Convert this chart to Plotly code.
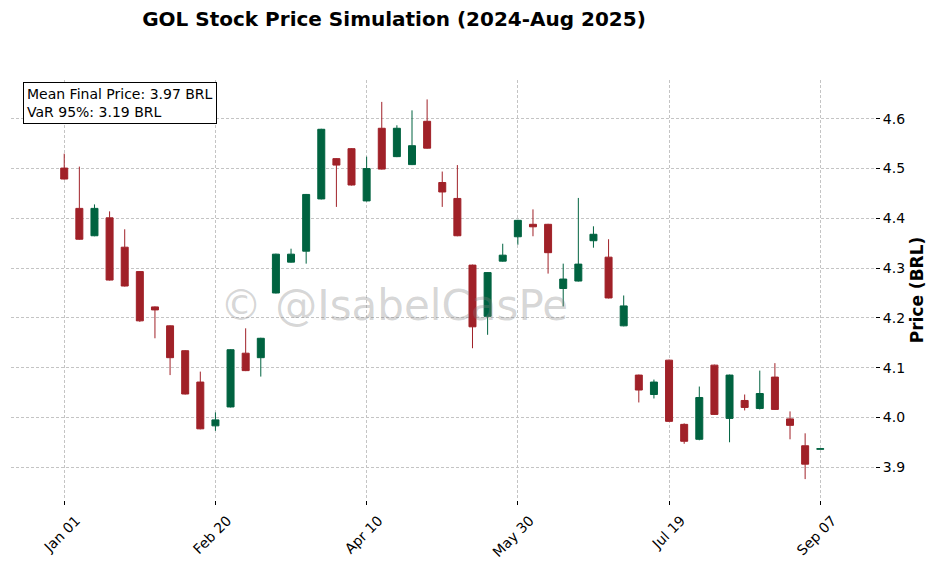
import pandas as pd
import plotly.graph_objects as go

# ---- data ----
dates = pd.date_range("2024-01-01", periods=51, freq="5D")
opens = [4.501, 4.420, 4.365, 4.401, 4.342, 4.293, 4.222, 4.184, 4.134, 4.071,
         3.983, 4.021, 4.129, 4.120, 4.250, 4.312, 4.334, 4.439, 4.520, 4.540,
         4.435, 4.581, 4.524, 4.508, 4.595, 4.472, 4.440, 4.306, 4.203, 4.314,
         4.363, 4.388, 4.388, 4.259, 4.274, 4.355, 4.322, 4.184, 4.085, 4.046,
         4.115, 3.986, 3.956, 4.105, 3.998, 4.034, 4.018, 4.081, 3.997, 3.943,
         3.936]
highs = [4.530, 4.504, 4.428, 4.414, 4.378, 4.294, 4.223, 4.185, 4.135, 4.092,
         4.010, 4.137, 4.179, 4.160, 4.329, 4.339, 4.449, 4.580, 4.521, 4.541,
         4.524, 4.634, 4.587, 4.617, 4.639, 4.494, 4.507, 4.307, 4.292, 4.349,
         4.397, 4.418, 4.389, 4.309, 4.441, 4.384, 4.358, 4.245, 4.086, 4.076,
         4.116, 3.988, 4.062, 4.106, 4.086, 4.046, 4.094, 4.109, 4.012, 3.968,
         3.937]
lows = [4.478, 4.357, 4.364, 4.275, 4.263, 4.192, 4.159, 4.085, 4.046, 3.976,
        3.973, 4.020, 4.093, 4.082, 4.249, 4.311, 4.309, 4.438, 4.423, 4.466,
        4.434, 4.498, 4.523, 4.507, 4.540, 4.423, 4.364, 4.139, 4.166, 4.313,
        4.347, 4.364, 4.289, 4.223, 4.273, 4.341, 4.239, 4.183, 4.030, 4.038,
        3.991, 3.947, 3.954, 4.005, 3.950, 4.014, 4.016, 4.015, 3.956, 3.876,
        3.936]
closes = [4.479, 4.358, 4.420, 4.276, 4.264, 4.194, 4.216, 4.120, 4.047, 3.977,
          3.995, 4.136, 4.094, 4.159, 4.328, 4.328, 4.448, 4.579, 4.507, 4.467,
          4.500, 4.499, 4.581, 4.546, 4.541, 4.453, 4.365, 4.182, 4.291, 4.326,
          4.396, 4.383, 4.331, 4.278, 4.308, 4.368, 4.240, 4.224, 4.055, 4.071,
          3.992, 3.952, 4.040, 4.006, 4.085, 4.020, 4.048, 4.016, 3.984, 3.906,
          3.937]

tick_dates = ["2024-01-01", "2024-02-20", "2024-04-10", "2024-05-30", "2024-07-19", "2024-09-07"]
tick_labels = ["Jan 01", "Feb 20", "Apr 10", "May 30", "Jul 19", "Sep 07"]
y_ticks = [3.9, 4.0, 4.1, 4.2, 4.3, 4.4, 4.5, 4.6]

title_text = "GOL Stock Price Simulation (2024-Aug 2025)"
stats_text = "Mean Final Price: 3.97 BRL<br>VaR 95%: 3.19 BRL"
watermark = "© @IsabelCasPe"

UP = "#006340"
DOWN = "#A02128"
FONT = "DejaVu Sans"

fig = go.Figure(go.Candlestick(
    x=dates, open=opens, high=highs, low=lows, close=closes,
    increasing=dict(fillcolor=UP, line=dict(color=UP, width=1)),
    decreasing=dict(fillcolor=DOWN, line=dict(color=DOWN, width=1)),
    whiskerwidth=0,
    hoverinfo="skip",
    showlegend=False,
))

start = pd.Timestamp("2024-01-01")
x0 = start - pd.Timedelta(days=17.6)
x1 = start + pd.Timedelta(days=268.1)

# the page body adds an 8px offset, so margins are shifted accordingly
fig.update_layout(
    width=939, height=565,
    margin=dict(l=3, r=72, t=72, b=73, autoexpand=False),
    paper_bgcolor="white", plot_bgcolor="white",
    font=dict(family=FONT, size=14, color="black"),
    boxgap=0.34,
    title=dict(text="<b>" + title_text + "</b>", x=386 / 939, xref="container",
               xanchor="center", y=1 - 11 / 565, yref="container", yanchor="middle",
               automargin=False,
               font=dict(family=FONT, size=20, color="black")),
    xaxis=dict(
        range=[x0, x1], rangeslider=dict(visible=False), automargin=False,
        tickvals=tick_dates, ticktext=tick_labels, tickangle=-45,
        ticklabelshift=12, ticklabelstandoff=2,
        ticks="outside", ticklen=4, tickcolor="black", tickwidth=1,
        showline=False, zeroline=False,
        showgrid=True, gridcolor="#c4c4c4", gridwidth=0.7, griddash="3px,2px",
        tickfont=dict(family=FONT, size=14, color="black"),
    ),
    yaxis=dict(
        side="right", range=[3.834, 4.678], automargin=False,
        tickvals=y_ticks, tickformat=".1f",
        ticks="outside", ticklen=4, tickcolor="black", tickwidth=1,
        showline=False, zeroline=False,
        showgrid=True, gridcolor="#c4c4c4", gridwidth=0.7, griddash="3px,2px",
        tickfont=dict(family=FONT, size=14, color="black"),
        title=dict(text="<b>Price (BRL)</b>", font=dict(family=FONT, size=17, color="black"),
                   standoff=6),
    ),
    annotations=[
        dict(text=watermark, xref="paper", yref="paper", x=(394 - 11) / 864, y=(500 - 305) / 420,
             xanchor="center", yanchor="middle", showarrow=False,
             font=dict(family=FONT, size=42, color="rgba(128,128,128,0.33)")),
        dict(text=stats_text, xref="paper", yref="paper", x=(22.5 - 11) / 864, y=(500 - 82) / 420,
             xanchor="left", yanchor="top", align="left", showarrow=False,
             bgcolor="white", bordercolor="black", borderwidth=1, borderpad=3,
             font=dict(family=FONT, size=14, color="black")),
    ],
)

fig.write_html("out.html")
